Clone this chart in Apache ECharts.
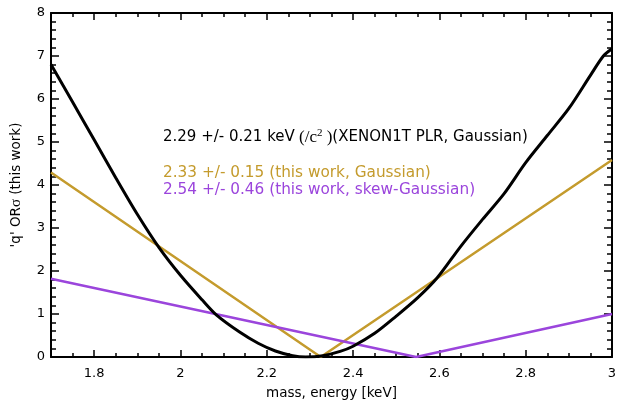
<!DOCTYPE html>
<html>
<head>
<meta charset="utf-8">
<script src="https://cdn.jsdelivr.net/npm/echarts@6/dist/echarts.min.js"></script>
<style>
html,body{margin:0;padding:0;background:#fff;}
#c{width:634px;height:408px;}
</style>
</head>
<body>
<div id="c"></div>
<script>
// ---- data ----
var xMajorTicks = [1.8, 2.0, 2.2, 2.4, 2.6, 2.8, 3.0];
var xTickLabels = ['1.8', '2', '2.2', '2.4', '2.6', '2.8', '3'];
var yTickLabels = ['0', '1', '2', '3', '4', '5', '6', '7', '8'];

var blackCurve = [
  [1.70, 6.80], [1.75, 5.93], [1.80, 5.05], [1.85, 4.17], [1.90, 3.32],
  [1.95, 2.55], [2.00, 1.90], [2.05, 1.33], [2.083, 0.98], [2.137, 0.58],
  [2.18, 0.32], [2.22, 0.14], [2.26, 0.03], [2.29, 0.00], [2.33, 0.03],
  [2.37, 0.13], [2.40, 0.25], [2.45, 0.55], [2.50, 0.95], [2.55, 1.38],
  [2.594, 1.83], [2.65, 2.58], [2.70, 3.20], [2.75, 3.80], [2.80, 4.52],
  [2.85, 5.15], [2.90, 5.78], [2.95, 6.55], [2.98, 7.00], [3.00, 7.17]
];
var goldLine = [[1.70, 4.29], [2.325, 0.0], [3.00, 4.58]];
var purpleLine = [[1.70, 1.82], [2.546, 0.0], [3.00, 1.00]];

var labelBlack = '2.29 +/- 0.21 keV';
var labelBlackTail = '(XENON1T PLR, Gaussian)';
var labelGold = '2.33 +/- 0.15 (this work, Gaussian)';
var labelPurple = '2.54 +/- 0.46 (this work, skew-Gaussian)';

var GOLD = '#c49b2d';
var PURPLE = '#9b45dc';
var FONT = 'DejaVu Sans';
var TICK = {color: '#000', width: 1.5};

function xfmt(v) {
  var i = -1;
  for (var k = 0; k < xMajorTicks.length; k++) if (Math.abs(xMajorTicks[k] - v) < 1e-6) i = k;
  return i >= 0 ? xTickLabels[i] : '';
}

function mkX(o) {
  var r = {type: 'value', min: 1.7, max: 3.0, gridIndex: 0, splitLine: {show: false}};
  for (var k in o) r[k] = o[k];
  return r;
}

var chart = echarts.init(document.getElementById('c'), null, {renderer: 'canvas'});
chart.setOption({
  animation: false,
  backgroundColor: '#fff',
  grid: {left: 51, right: 22, top: 13, bottom: 51, containLabel: false},
  xAxis: [
    mkX({position: 'bottom', interval: 0.05,
      axisLine: {show: true, lineStyle: {color: '#000', width: 2}},
      axisTick: {show: true, inside: true, length: 4, lineStyle: TICK},
      axisLabel: {show: true, customValues: xMajorTicks, formatter: xfmt, color: '#000', fontSize: 13, fontFamily: FONT, margin: 10},
      name: 'mass, energy [keV]', nameLocation: 'middle', nameGap: 29,
      nameTextStyle: {color: '#000', fontSize: 13.5, fontFamily: FONT}
    }),
    mkX({position: 'bottom', interval: 0.1,
      axisLine: {show: false},
      axisTick: {show: true, inside: true, length: 7, customValues: xMajorTicks, lineStyle: TICK},
      axisLabel: {show: false}
    }),
    mkX({position: 'top', interval: 0.05,
      axisLine: {show: true, lineStyle: {color: '#000', width: 2}},
      axisTick: {show: true, inside: true, length: 4, lineStyle: TICK},
      axisLabel: {show: false}
    }),
    mkX({position: 'top', interval: 0.1,
      axisLine: {show: false},
      axisTick: {show: true, inside: true, length: 7, customValues: xMajorTicks, lineStyle: TICK},
      axisLabel: {show: false}
    })
  ],
  yAxis: [
    {type: 'value', min: 0, max: 8, interval: 1, position: 'left',
      splitLine: {show: false},
      axisLine: {show: true, lineStyle: {color: '#000', width: 2}},
      axisTick: {show: true, inside: true, length: 8, lineStyle: TICK},
      minorTick: {show: true, splitNumber: 5, length: 5, lineStyle: TICK},
      axisLabel: {color: '#000', fontSize: 13, fontFamily: FONT, margin: 6,
        formatter: function (v) { return yTickLabels[Math.round(v)]; }},
      name: "{a|'q' OR}{b|σ}{a| (this work)}", nameLocation: 'middle', nameGap: 27,
      nameTextStyle: {color: '#000', fontSize: 13.5, fontFamily: FONT,
        rich: {a: {fontSize: 13.5, fontFamily: FONT, color: '#000'}, b: {fontSize: 15, fontFamily: 'Liberation Serif', color: '#000'}}}
    },
    {type: 'value', min: 0, max: 8, interval: 1, position: 'right',
      splitLine: {show: false},
      axisLine: {show: true, lineStyle: {color: '#000', width: 2}},
      axisTick: {show: true, inside: true, length: 8, lineStyle: TICK},
      minorTick: {show: true, splitNumber: 5, length: 5, lineStyle: TICK},
      axisLabel: {show: false}
    }
  ],
  series: [
    {type: 'line', data: goldLine, xAxisIndex: 0, yAxisIndex: 0, showSymbol: false,
      lineStyle: {color: GOLD, width: 2.5}, itemStyle: {color: GOLD}, z: 2},
    {type: 'line', data: purpleLine, xAxisIndex: 0, yAxisIndex: 0, showSymbol: false,
      lineStyle: {color: PURPLE, width: 2.5}, itemStyle: {color: PURPLE}, z: 3},
    {type: 'line', data: blackCurve, xAxisIndex: 0, yAxisIndex: 0, showSymbol: false, smooth: 0.3,
      lineStyle: {color: '#000', width: 3}, itemStyle: {color: '#000'}, z: 4}
  ],
  graphic: [
    {type: 'text', left: 163, top: 128, z: 10,
      style: {
        text: '{a|' + labelBlack + '}{s| (/c}{p|2}{s| )}{a|' + labelBlackTail + '}',
        rich: {
          a: {fontSize: 15, fontFamily: FONT, fill: '#000', color: '#000'},
          s: {fontSize: 17, fontFamily: 'Liberation Serif', fill: '#000', color: '#000'},
          p: {fontSize: 11, lineHeight: 11, fontFamily: 'Liberation Serif', fill: '#000', color: '#000', verticalAlign: 'bottom', padding: [0, 0, 7, 0]}
        }
      }
    },
    {type: 'text', left: 163, top: 166, z: 10,
      style: {text: labelGold, fill: GOLD, font: '15.3px "' + FONT + '"'}},
    {type: 'text', left: 163, top: 183, z: 10,
      style: {text: labelPurple, fill: PURPLE, font: '15.3px "' + FONT + '"'}}
  ]
});
</script>
</body>
</html>
